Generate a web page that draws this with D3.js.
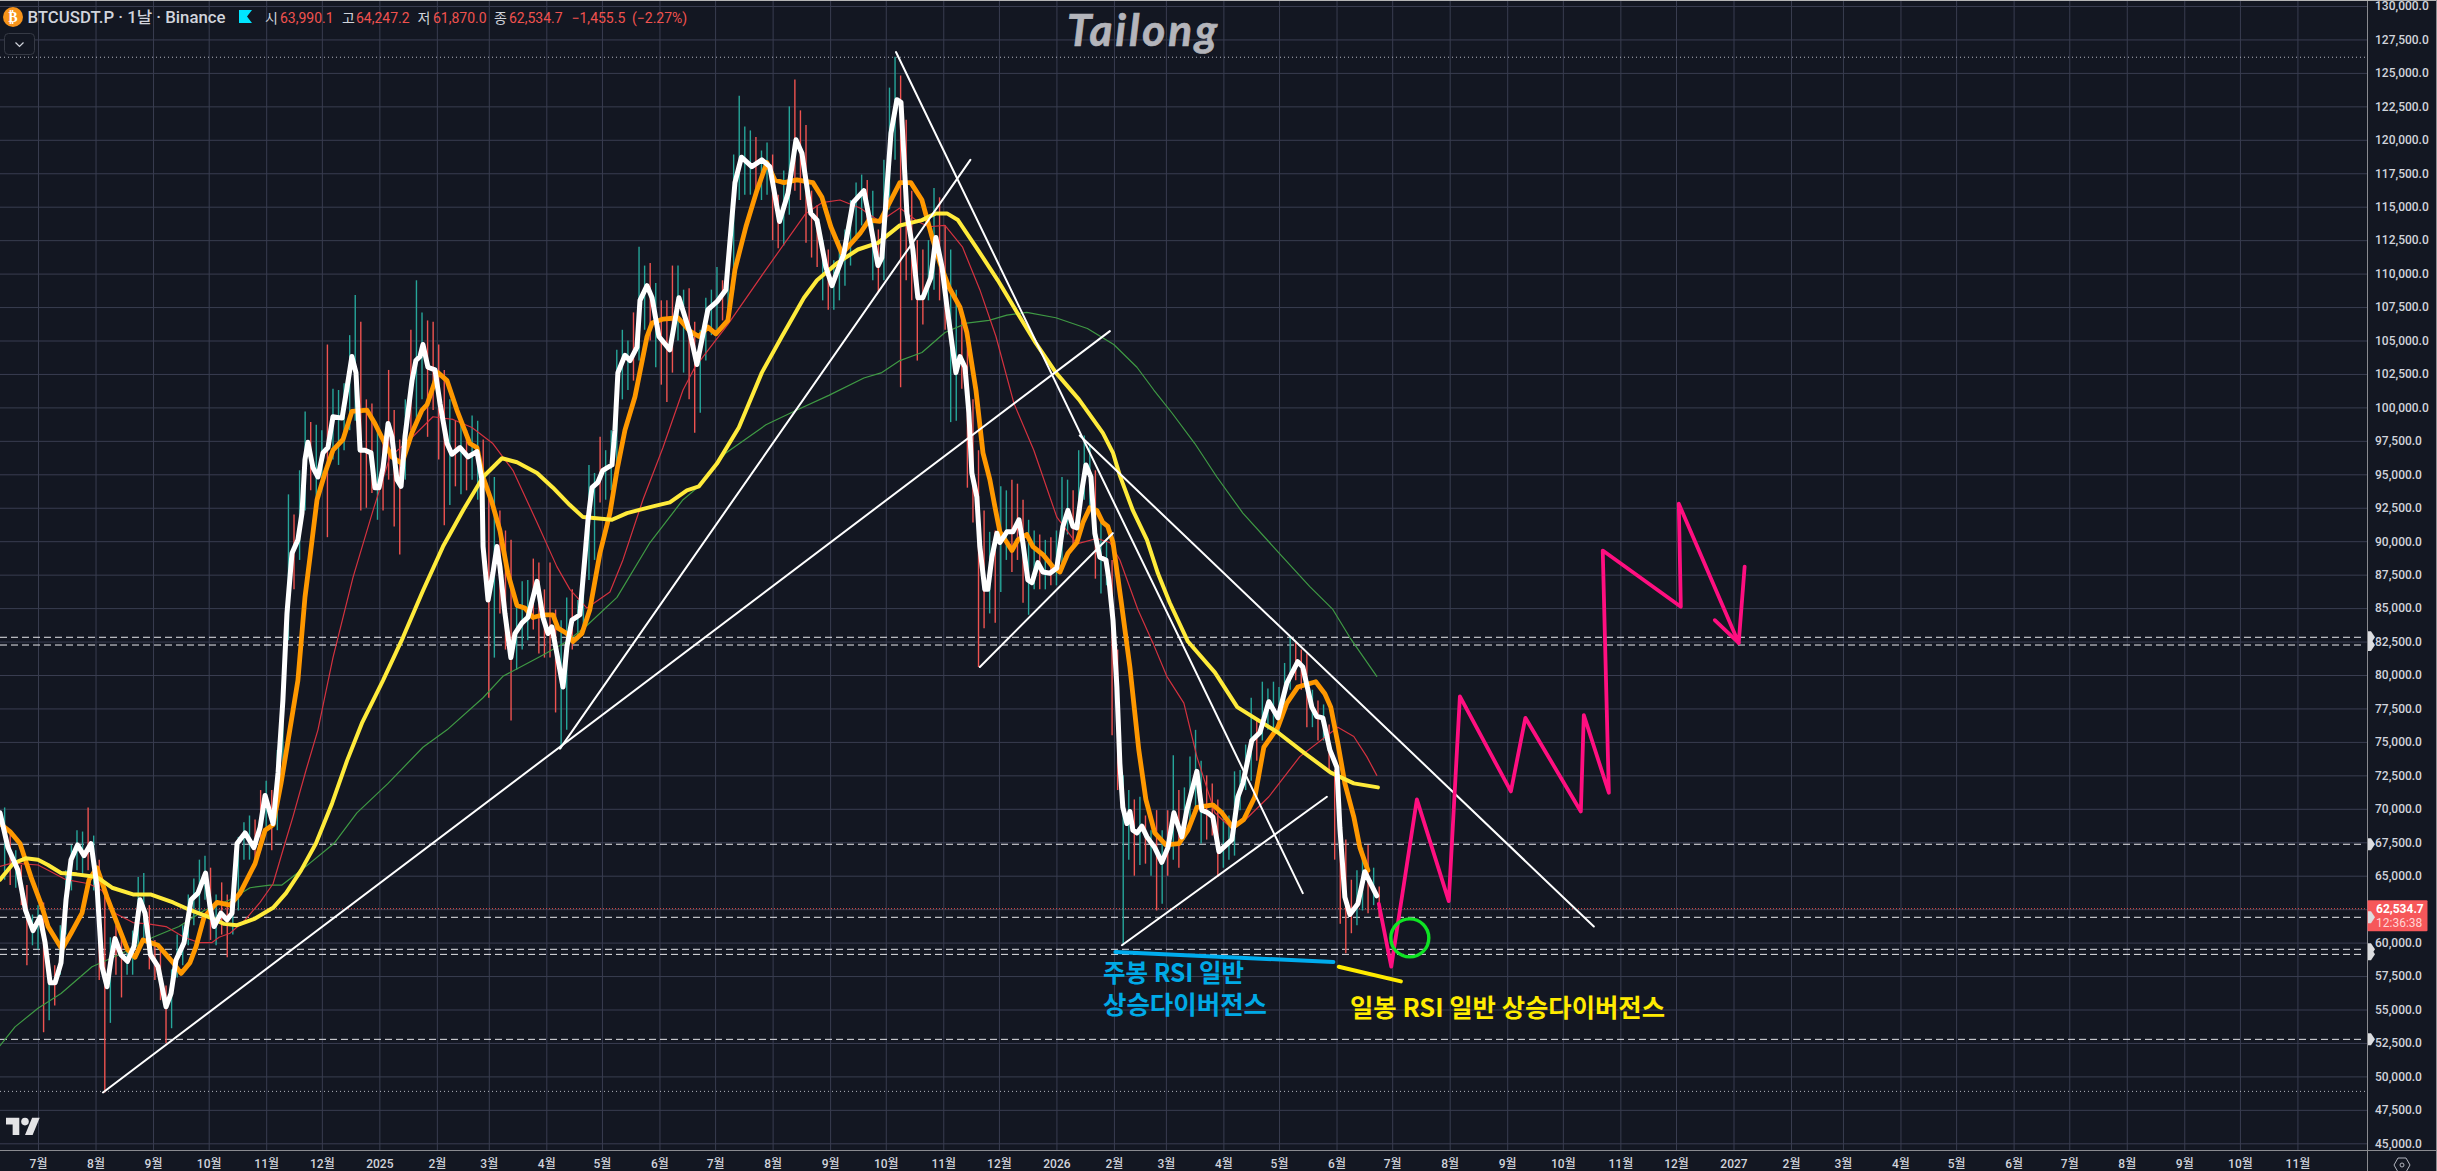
<!DOCTYPE html>
<html><head><meta charset="utf-8">
<script src="https://cdn.jsdelivr.net/npm/d3@7/dist/d3.min.js"></script>
<style>
html,body{margin:0;padding:0;background:#131722;overflow:hidden}
svg{display:block}
text{font-family:Roboto,"Noto Sans CJK KR",sans-serif}
</style></head><body>
<svg id="c" width="2437" height="1171"></svg>
<script>
// ---- values in thousands of USDT; days counted from 2024-07-01 ----
const priceTicks=[130,127.5,125,122.5,120,117.5,115,112.5,110,107.5,105,102.5,100,97.5,95,92.5,90,87.5,85,82.5,80,77.5,75,72.5,70,67.5,65,62.5,60,57.5,55,52.5,50,47.5,45];
const monthTicks=["2024-07","2024-08","2024-09","2024-10","2024-11","2024-12","2025-01","2025-02","2025-03","2025-04","2025-05","2025-06","2025-07","2025-08","2025-09","2025-10","2025-11","2025-12","2026-01","2026-02","2026-03","2026-04","2026-05","2026-06","2026-07","2026-08","2026-09","2026-10","2026-11","2026-12","2027-01","2027-02","2027-03","2027-04","2027-05","2027-06","2027-07","2027-08","2027-09","2027-10","2027-11"];
const monthLabels=["7월","8월","9월","10월","11월","12월","2025","2월","3월","4월","5월","6월","7월","8월","9월","10월","11월","12월","2026","2월","3월","4월","5월","6월","7월","8월","9월","10월","11월","12월","2027","2월","3월","4월","5월","6월","7월","8월","9월","10월","11월"];
const candleFirstDay=-18, candleStep=3;
const candleHigh=[70.1,68.4,66.9,65.8,64.3,62.1,62.8,63.0,58.7,58.3,61.3,65.4,67.3,68.4,68.3,70.1,68.0,66.2,63.9,60.4,61.3,60.9,59.8,60.9,64.9,65.2,62.8,60.2,59.5,56.8,58.0,60.6,61.3,63.6,64.8,66.2,66.5,65.6,63.6,64.5,63.6,63.6,67.9,69.0,69.5,69.2,71.4,72.1,71.4,74.4,78.9,93.5,92.0,95.3,99.7,98.9,98.7,98.3,104.7,101.4,101.3,101.8,105.4,108.4,106.4,100.6,100.3,98.3,97.6,102.8,99.8,97.6,100.6,105.8,109.5,107.1,106.5,106.4,104.7,102.8,100.6,99.0,98.7,98.3,99.4,99.0,97.6,93.8,94.8,92.3,90.8,90.1,85.6,87.0,87.1,88.7,88.4,86.4,88.4,84.9,84.1,85.8,86.4,85.6,87.9,95.7,95.1,97.8,96.8,98.3,104.3,105.8,105.0,107.1,112.0,110.6,110.8,109.3,108.0,108.0,110.6,110.6,108.8,108.9,106.4,105.8,108.2,108.8,110.5,109.5,110.3,118.9,123.3,121.0,120.7,120.2,119.2,119.8,118.9,115.9,117.7,122.5,124.5,122.2,121.1,116.2,115.1,112.5,111.8,111.0,112.5,113.3,115.5,116.8,117.4,117.0,116.2,113.3,118.5,123.9,126.2,124.8,121.5,116.2,112.5,111.8,112.5,116.4,115.7,113.6,111.8,108.8,106.7,105.0,100.6,96.8,92.3,90.7,90.8,94.1,93.8,94.6,94.3,93.1,91.6,90.8,90.5,90.1,90.3,90.8,94.8,94.6,93.8,96.8,97.9,97.2,95.3,91.6,90.1,88.6,81.9,72.5,71.4,70.7,70.9,69.5,68.4,69.9,68.4,69.9,74.0,71.4,71.6,73.9,75.9,73.6,72.5,71.9,70.7,69.9,69.5,72.8,72.9,74.8,78.3,76.6,79.5,79.0,79.5,79.1,80.9,82.8,82.4,81.9,81.6,78.9,78.1,77.8,76.3,72.9,70.7,67.7,64.7,65.4,67.1,67.3,65.6,64.2];
const candleLow=[64.7,64.3,64.1,62.8,58.3,59.8,59.5,53.3,54.2,55.3,57.6,60.6,63.9,65.4,65.0,65.4,63.9,57.2,48.8,54.0,57.6,55.9,57.6,57.6,59.1,60.2,58.0,57.2,55.7,52.5,53.6,57.4,58.3,59.8,61.3,62.1,63.2,60.2,59.8,60.6,58.9,60.6,62.4,66.2,66.2,65.8,66.9,68.4,66.9,68.4,72.1,82.6,86.4,88.6,92.3,93.8,93.1,94.6,90.3,96.1,95.7,96.8,98.3,99.0,92.3,92.5,93.6,91.6,92.3,94.6,91.1,89.0,94.6,98.3,99.0,100.6,97.8,99.8,96.1,91.2,92.7,94.1,93.5,93.8,94.6,93.1,91.4,78.3,81.3,84.6,81.9,76.6,80.4,81.9,82.6,83.4,81.6,81.3,81.3,77.2,74.5,75.9,81.9,82.6,83.4,87.1,88.6,92.9,93.1,93.8,95.3,100.6,101.3,102.0,103.5,105.8,105.0,103.0,101.7,100.4,102.6,105.0,102.6,100.6,98.1,99.6,103.5,105.4,105.8,106.5,106.5,108.8,115.5,115.9,115.9,116.2,115.5,115.9,112.5,111.9,112.1,114.4,116.2,115.5,112.3,111.2,110.5,108.0,107.3,107.3,108.0,109.1,110.6,112.5,113.6,113.6,109.5,108.6,109.5,114.8,118.5,101.5,109.5,108.0,103.5,106.2,108.0,108.8,108.0,105.8,98.9,99.0,101.4,94.0,91.4,80.6,83.5,84.6,83.9,86.2,88.6,87.7,88.6,85.4,84.5,86.4,86.4,86.4,86.7,86.7,87.8,90.5,89.7,90.5,93.1,92.3,87.2,86.1,86.7,75.5,71.4,59.8,66.2,65.0,65.8,65.9,65.0,62.4,62.9,65.0,66.2,65.6,67.7,68.8,69.9,67.4,67.7,68.0,64.9,65.6,66.2,66.5,69.9,71.4,72.1,73.6,75.1,75.9,75.5,75.5,77.4,78.9,79.6,78.9,76.1,76.1,75.1,75.1,72.9,66.2,61.4,59.2,60.7,61.3,62.4,62.2,62.8,61.9];
const candleUp=[1,0,1,0,0,1,1,0,1,0,1,1,1,1,1,0,1,0,0,1,0,0,1,1,1,1,0,0,0,0,1,1,1,1,1,1,1,0,1,0,0,1,1,1,1,0,0,1,0,1,1,1,0,1,1,0,1,1,0,1,1,1,1,1,0,0,0,1,0,0,0,0,1,0,1,1,0,0,0,0,1,0,1,0,1,1,0,0,1,0,0,0,1,1,1,0,0,0,0,0,1,1,0,1,1,1,1,0,1,1,1,1,1,0,1,1,0,1,0,0,0,1,1,0,0,1,1,1,1,0,1,1,1,1,1,0,1,1,0,0,1,1,0,0,0,0,0,1,0,1,1,1,1,1,1,0,1,0,1,1,1,0,0,0,0,0,1,1,0,0,1,1,0,0,0,0,0,1,0,1,1,0,0,0,1,1,0,1,0,1,1,1,0,1,1,1,0,1,1,0,0,1,1,0,1,0,1,0,1,0,1,0,1,1,1,1,0,0,0,1,1,1,1,1,1,0,1,1,1,1,1,1,0,0,0,1,0,1,0,0,0,0,0,1,1,0,1,0];
const whiteDays=[-20.5,-16.2,-10.8,-6.7,-2.7,1.1,3.8,6.5,9.2,12.4,15.1,17.8,21.3,24.8,28.6,31.8,34.5,37.2,39.3,41.5,44.7,48.2,51.7,55,57.7,60.6,64.7,69,71.7,74.4,78.7,82.5,86.2,90.3,92.7,94.9,98.6,101.9,104.6,107.3,111.6,116.4,119.7,122.4,126.7,129.4,132,134.2,136.9,140.1,142.3,143.9,145.5,148.2,150.9,153.6,156.3,159,163.9,166.6,169.2,171.4,173.6,176.3,179.5,181.6,183.8,186,188.7,190.8,193.5,195.7,197.8,201.6,203.7,205.9,207.5,210.2,214,216.7,220.5,223.1,227.5,231.8,236.6,239.3,239.9,242.6,245.2,247.4,249,251.7,254.9,257.1,260.9,264.1,269,272.2,274.9,277,279.7,283,285.1,287.8,292.1,294.8,296.5,298.6,301.8,304.5,309.4,311,312.6,316.4,319.1,322.9,324.5,328.3,331,334.7,340.6,345.5,351.4,355.2,361.1,366,370.8,375.7,379.2,384.8,390.2,394.5,399.7,404.3,408.6,411.8,416.6,419.9,424.7,428,434.4,439.3,445.2,449,452.8,454.9,459.8,463,465.2,468.4,471.6,474.3,477,481.3,484,487.3,490,494.8,497,499.7,501.8,503.4,506.1,507.7,510.4,512,514.2,516.9,518.5,522.3,525.5,528.8,530.9,533.6,535.8,539,541.7,545.5,549.2,552.5,555.2,557.9,560,562.7,564.9,567.6,569.7,572.4,575.7,577.3,579.5,581.6,583.2,584.8,587,588.6,590.2,592.4,595.1,597.8,602,605.8,609.1,612.3,616.6,619.3,624.7,627.4,630.6,633.3,636.6,643.6,646.8,649.5,654.3,658.7,663.5,668.4,673.2,679.1,681.8,686.7,689.4,692.6,696.4,700.2,701.8,704.5,707.2,711.5,715.2,721.7];
const whiteVals=[69.7,67.1,65.4,62.4,60.9,61.9,60.0,57.0,57.0,58.5,63.2,66.2,67.3,66.5,67.4,64.2,58.2,56.7,58.7,60.3,59.1,58.6,59.7,63.2,62.2,59.1,58.2,55.2,56.2,58.7,60.0,63.2,63.7,65.2,62.7,61.2,62.2,61.7,62.2,67.4,68.2,67.1,68.6,71.0,68.9,72.7,78.1,84.6,89.1,90.1,92.1,96.1,97.4,95.5,94.8,96.6,97.0,99.3,99.2,101.5,103.8,102.6,96.8,96.8,96.6,94.0,94.0,95.5,98.8,97.8,94.6,94.1,97.8,102.0,103.5,103.8,104.7,103.0,102.8,100.3,97.3,96.5,97.0,96.3,96.7,94.6,89.6,85.6,87.6,89.6,88.1,84.6,81.3,83.1,83.9,84.3,87.0,84.3,83.1,83.6,81.6,79.1,82.1,84.1,84.5,88.8,91.6,94.0,94.4,95.3,95.7,98.3,102.6,103.9,103.5,104.5,108.0,109.1,108.2,105.3,104.3,108.2,105.6,103.2,107.3,107.9,108.8,116.8,118.7,118.0,118.5,118.0,113.9,116.0,120.0,119.0,114.5,114.0,110.5,109.1,111.5,115.3,116.2,113.5,110.6,111.2,120.5,123.0,122.8,114.5,111.8,108.2,108.2,109.7,112.7,110.5,107.5,102.6,103.8,103.0,99.6,95.1,93.3,89.6,86.4,86.4,88.8,90.6,89.9,90.7,90.7,91.6,89.9,87.1,86.9,88.4,87.7,87.6,88.0,91.1,92.3,91.1,91.0,93.8,95.7,94.8,90.6,88.8,88.6,87.1,84.1,79.1,73.4,70.1,68.9,69.8,68.4,68.2,68.7,67.9,67.1,66.0,67.1,69.7,67.9,69.9,72.8,69.9,69.7,69.4,66.8,67.7,70.9,71.9,75.1,75.7,78.0,76.8,79.4,81.0,80.6,77.6,76.9,76.8,74.4,73.1,68.6,63.4,62.1,62.9,65.3,63.5];
const orangeDays=[-20.5,-15.1,-9.7,-3.8,1.6,5.4,12.9,17.8,23.7,27.5,31.8,37.2,44.2,48.2,52.3,56.6,64.7,72.8,77.1,81.9,85.2,89.5,96.5,103.5,108.9,117,122.4,126.7,131,134.8,140.1,143.9,146.6,150.4,154.7,159,164.4,169.2,177.3,181.6,187,190.8,196.2,201.6,207,209.7,215.6,220.5,225.8,232.8,236.6,239.9,244.7,249,253.3,258.2,262.5,266.8,272.2,277.6,280.3,285.1,288.4,293.2,297.5,302.9,308.3,312.1,316.4,321.8,328.3,331,336.9,345,351.4,356.3,361.1,365.4,371.9,375.7,381.6,387.5,392.9,397.2,402.1,409.1,417.7,422.6,427.4,433.4,443.1,447.9,453.8,459.8,464.6,470.5,476.5,482.4,486.2,491,497,500.7,505.6,509.4,513.1,515.8,518.5,522.3,525,528.2,533,536.3,541.7,547,550.9,555.2,560,563.3,567,570.8,574,576.7,579.5,582.1,583.8,588.6,593.4,597.2,602,608,615,619.9,624.7,633.3,638.2,644.1,650,656,660.8,668.4,673.2,679.1,688.8,693.7,696.9,700.7,704.5,709.3,712.6,716.9];
const orangeVals=[68.9,68.3,67.4,64.9,62.9,61.2,59.5,60.7,62.2,64.7,65.6,63.4,60.9,59.5,58.9,60.2,59.8,58.5,57.7,58.5,59.7,61.9,63.0,62.8,63.7,65.9,68.4,68.8,71.9,75.1,79.6,85.8,88.8,93.1,95.1,96.8,97.6,99.7,99.8,98.8,97.3,96.3,95.8,98.1,99.8,100.2,102.6,102.0,99.8,97.3,97.0,94.8,92.9,90.8,87.6,85.2,85.0,84.3,84.5,84.5,83.5,83.1,82.5,83.1,84.9,89.1,92.1,95.3,98.3,100.8,105.3,106.3,106.6,106.7,105.7,105.3,106.0,105.5,106.5,110.3,113.5,116.2,118.3,117.0,116.8,117.0,116.8,115.7,113.5,111.5,113.0,114.0,113.9,115.5,116.8,116.8,115.5,112.5,110.8,109.0,107.5,105.6,101.3,96.6,94.6,92.6,90.7,89.9,89.3,90.1,90.5,89.6,89.0,88.1,87.7,89.1,89.9,91.4,92.5,92.3,91.4,91.1,89.9,87.3,85.6,80.6,74.4,70.7,68.2,67.3,67.4,68.4,70.1,70.3,69.7,68.6,69.2,70.9,74.6,76.1,77.9,79.1,79.5,78.6,77.6,74.9,71.9,69.4,67.1,65.4];
const yellowDays=[-20.5,-13.5,-6.7,0,5.4,12.4,20.8,31.8,39.9,51.2,60.6,72.8,82.5,92.2,100.3,107.3,117,126.7,133.7,141.8,149.8,158.5,166.6,174.6,186,196.7,207.5,218.3,229.1,239.9,250.1,258.2,269,277.6,286.7,293.8,309.4,317.5,331.5,340.6,349.8,356.3,366,377.8,390.2,401,412.9,419.9,431,442,452.8,464.6,476.5,484,490,495.9,505.6,517.4,528.2,537.9,548.7,561.1,574,579.5,583.2,590.2,597.8,603.7,610.1,619.9,634.4,646.5,668.4,682.4,696.9,709.3,722.3];
const yellowVals=[64.7,65.9,66.3,66.2,65.8,65.2,65.1,64.9,64.1,63.6,63.6,63.0,62.4,61.9,61.4,61.3,61.8,62.6,63.7,65.4,67.4,70.4,73.6,76.4,79.6,82.8,86.3,89.6,92.3,94.8,96.2,95.9,95.1,94.0,92.7,91.8,91.6,92.1,92.6,92.9,93.8,94.1,95.8,98.5,102.6,105.3,108.2,109.5,110.8,111.8,112.3,113.6,114.0,114.5,114.5,114.0,112.0,109.5,107.0,104.8,102.6,100.6,98.1,96.6,94.9,92.3,90.1,87.6,85.4,82.5,80.2,77.6,75.7,74.2,72.7,71.9,71.6];
const redDays=[-20.5,-15.1,-9.7,0,7,15.1,27.5,34.5,41.5,51.2,59.3,69,78.7,86.8,93.8,97.6,103.5,111.6,119.7,126.7,132,137.4,144.5,150.9,159,169.8,180.6,189.7,200.5,212.9,223.7,233.9,245.2,256,269,279.7,286.7,295.9,308.3,315.3,326.1,336.9,347.7,354.1,371.9,392.4,413.9,422.6,432.3,443.1,453.8,464.6,474.3,480.2,488.9,498.3,507.7,516.4,526.1,536.8,549.2,560,570.8,577.8,583.2,592.9,601,608.5,617.7,624.7,634.4,643,651,663.5,680.2,700.7,709.3,716.3,721.7];
const redVals=[65.7,65.9,65.9,65.8,65.3,64.7,64.4,63.9,62.2,61.5,61.4,61.2,60.4,60.0,60.0,60.4,60.7,61.7,63.0,64.4,66.9,69.4,72.9,75.9,81.3,87.3,92.3,96.3,97.6,99.3,99.1,98.5,97.3,95.3,91.4,88.1,86.4,85.0,86.2,88.6,93.1,97.0,101.3,103.0,106.2,110.3,114.5,115.3,115.5,114.9,113.9,114.9,113.9,113.5,113.6,112.0,108.8,105.3,100.3,96.8,91.8,89.8,90.2,89.9,88.6,84.9,82.4,79.9,77.9,73.9,69.7,68.6,69.2,70.9,73.9,76.1,75.4,73.9,72.5];
const greenDays=[-20.5,-12.4,0,12.4,29.1,45.3,62,76,89.5,103.5,114.3,125,131.5,141.8,159.5,171.9,188.7,207.5,220.5,239.9,250.6,272.2,285.1,295.9,312.1,329.9,347.7,356.3,370.8,392.4,409.1,426.3,445.2,454.9,464.6,476.5,488.9,500.7,512.6,522.3,533,548.7,565.7,579.9,592.4,601.5,611.2,623.6,635.5,649.5,667.8,685.6,698,707.2,721.7];
const greenVals=[52.3,53.7,55.1,56.2,58.2,59.2,60.4,61.2,62.4,63.2,64.1,64.3,64.3,65.4,67.4,69.7,71.9,74.6,75.9,78.3,79.9,81.5,82.5,83.7,85.8,89.9,93.1,94.1,96.6,98.7,99.8,100.9,102.2,102.6,103.5,104.1,105.6,106.3,106.5,106.9,107.1,106.7,105.9,104.7,103.0,101.3,99.6,97.3,94.8,92.1,89.3,86.6,84.9,82.8,79.9];
const dashedLevels=[82.82,82.24,67.35,61.89,59.5,59.12,52.77];
const dottedLevels=[126.17,48.88];
const lastPrice=62.5347;
const trendLines=[[35,48.8,577.8,105.7],[462.5,126.56,681.8,63.7],[281.4,74.5,502.6,118.5],[507.7,80.6,579.4,90.6],[561.6,97.9,838.7,61.2],[584.3,59.8,694.8,70.9]];
const blueDivergence=[580.8,59.3,698.3,58.55];
const yellowDivergence=[701.2,58.2,734.7,57.1];
const forecastDays=[722.8,729.5,743.3,760.5,766.5,794,801.8,831.7,833.3,846.8,843.5,885.6,884.5,916.8,920];
const forecastVals=[62.9,58.2,70.7,63.1,78.4,71.3,76.8,69.8,77.0,71.2,89.3,85.1,92.8,82.4,88.1];
const arrowBarb=[903.9,84.1,916.8,82.4];
const circleSpot=[739.5,60.35];

// ---- scales ----
const W=2437,H=1171,PW=2367,PB=1150;
const DAY=864e5, base=Date.UTC(2024,6,1);
const toDate=d=>new Date(base+d*DAY);
const x=d3.scaleUtc().domain([toDate(-20.5),toDate(1255.5)]).range([0,PW]);
const y=d3.scaleLinear().domain([45,130]).range([1143.3,6]);
const X=d=>x(toDate(d));
const svg=d3.select('#c');
svg.append('rect').attr('width',W).attr('height',H).attr('fill','#131722');
svg.append('defs').append('clipPath').attr('id','plot').append('rect').attr('width',PW).attr('height',PB);
const monthDates=monthTicks.map(m=>d3.utcParse('%Y-%m')(m));

// grid
const GRID='#393d50';
const gx=svg.append('g').call(d3.axisBottom(x).tickValues(monthDates).tickSize(PB).tickFormat(''));
const gy=svg.append('g').attr('clip-path','url(#plot)').call(d3.axisRight(y).tickValues(priceTicks).tickSize(PW).tickFormat(''));
[gx,gy].forEach(g=>{g.select('.domain').remove();g.selectAll('line').attr('stroke',GRID).attr('stroke-width',1);});

const plot=svg.append('g').attr('clip-path','url(#plot)');
// horizontal levels
plot.selectAll('.dash').data(dashedLevels).join('line').attr('x1',0).attr('x2',PW-2).attr('y1',d=>y(d)).attr('y2',d=>y(d))
 .attr('stroke','#e8e8ec').attr('stroke-width',1).attr('stroke-dasharray','7 4');
plot.selectAll('.dot').data(dottedLevels).join('line').attr('x1',0).attr('x2',PW-2).attr('y1',d=>y(d)).attr('y2',d=>y(d))
 .attr('stroke','#b2b5be').attr('stroke-width',1).attr('stroke-dasharray','1 3');
plot.append('line').attr('x1',0).attr('x2',PW).attr('y1',y(lastPrice)).attr('y2',y(lastPrice))
 .attr('stroke','#f0524f').attr('stroke-width',1).attr('stroke-dasharray','1 2');

// candles
plot.selectAll('.w').data(candleHigh).join('line')
 .attr('x1',(d,i)=>X(candleFirstDay+i*candleStep)).attr('x2',(d,i)=>X(candleFirstDay+i*candleStep))
 .attr('y1',d=>y(d)).attr('y2',(d,i)=>y(candleLow[i]))
 .attr('stroke',(d,i)=>candleUp[i]?'#26a69a':'#ef5350').attr('stroke-width',1.4);

// moving averages
const line=d3.line().x(d=>X(d[0])).y(d=>y(d[1])).curve(d3.curveLinear);
const drawSeries=(days,vals,color,w)=>plot.append('path').attr('d',line(days.map((d,i)=>[d,vals[i]])))
 .attr('fill','none').attr('stroke',color).attr('stroke-width',w).attr('stroke-linejoin','round').attr('stroke-linecap','round');
drawSeries(greenDays,greenVals,'#3f9a44',1.2);
drawSeries(redDays,redVals,'#d4323f',1.2);
drawSeries(orangeDays,orangeVals,'#ff9800',4.8);
drawSeries(yellowDays,yellowVals,'#ffeb3b',4);
drawSeries(whiteDays,whiteVals,'#ffffff',5);

// drawings
const seg=(s,color,w)=>plot.append('line').attr('x1',X(s[0])).attr('y1',y(s[1])).attr('x2',X(s[2])).attr('y2',y(s[3]))
 .attr('stroke',color).attr('stroke-width',w).attr('stroke-linecap','round');
trendLines.forEach(t=>seg(t,'#ffffff',2));
seg(blueDivergence,'#00acee',4);
seg(yellowDivergence,'#ffeb00',4);
drawSeries(forecastDays,forecastVals,'#ff0f80',3.8);
seg(arrowBarb,'#ff0f80',3.8);
plot.append('circle').attr('cx',X(circleSpot[0])).attr('cy',y(circleSpot[1])).attr('r',19)
 .attr('fill','none').attr('stroke','#0fe324').attr('stroke-width',3.4);

const note=(t,xx,yy,len,c)=>svg.append('text').text(t).attr('x',xx).attr('y',yy).attr('fill',c)
 .attr('font-size',25).attr('font-weight',700).attr('textLength',len).attr('lengthAdjust','spacingAndGlyphs')
 .style('font-family','"Noto Sans CJK KR"');
note('주봉 RSI 일반',1103,982,141,'#00a9e6');
note('상승다이버전스',1103,1014,164,'#00a9e6');
note('일봉 RSI 일반 상승다이버전스',1350,1017,315,'#ffeb00');

// watermark
svg.append('text').text('Tailong').attr('x',1067).attr('y',46).attr('fill','#b4b5bb').attr('stroke','#b4b5bb').attr('stroke-width',0.7)
 .attr('font-size',44).attr('font-style','italic').attr('font-weight',700).attr('textLength',150).attr('lengthAdjust','spacing')
 .style('font-family','Lato');

// panels
svg.append('rect').attr('x',PW).attr('y',0).attr('width',W-PW).attr('height',H).attr('fill','#131722');
svg.append('rect').attr('x',0).attr('y',PB).attr('width',W).attr('height',H-PB).attr('fill','#131722');
const yAxis=svg.append('g').attr('transform',`translate(${PW},0)`).call(d3.axisRight(y).tickValues(priceTicks).tickSize(0).tickPadding(8).tickFormat(v=>d3.format(',.1f')(v*1000)));
const xAxis=svg.append('g').attr('transform',`translate(0,${PB})`).call(d3.axisBottom(x).tickValues(monthDates).tickSize(0).tickPadding(9).tickFormat((d,i)=>monthLabels[i]));
[yAxis,xAxis].forEach(a=>{a.select('.domain').remove();a.selectAll('text').attr('fill','#d1d4dc').attr('font-size',12).attr('font-weight',500).style('font-family','Roboto,"Noto Sans CJK KR"');});
svg.append('line').attr('x1',PW+.5).attr('x2',PW+.5).attr('y1',0).attr('y2',H).attr('stroke','#8a8b90');
svg.append('line').attr('x1',0).attr('x2',W).attr('y1',PB+.5).attr('y2',PB+.5).attr('stroke','#8a8b90');
svg.append('line').attr('x1',0).attr('x2',W).attr('y1',.5).attr('y2',.5).attr('stroke','#b5b5b5');
svg.append('line').attr('x1',W-.5).attr('x2',W-.5).attr('y1',0).attr('y2',H).attr('stroke','#8a8b90');

// last-price label and level markers
svg.append('rect').attr('x',PW+.5).attr('y',y(lastPrice)-8.5).attr('width',60).attr('height',31).attr('rx',1).attr('fill','#f6575a');
svg.append('text').text(d3.format(',.1f')(lastPrice*1000)).attr('x',2376).attr('y',y(lastPrice)+4).attr('fill','#fff').attr('font-size',12).attr('font-weight',700);
svg.append('text').text('12:36:38').attr('x',2376).attr('y',y(lastPrice)+18).attr('fill','#ffd5d5').attr('font-size',12);
svg.selectAll('.mk').data(dashedLevels).join('path')
 .attr('d',d=>{const c=y(d);return `M${PW+1} ${c-6}L${PW+4} ${c-6}L${PW+8} ${c}L${PW+4} ${c+6}L${PW+1} ${c+6}Z`;}).attr('fill','#dcdde0');

// legend header
svg.append('circle').attr('cx',13).attr('cy',17).attr('r',10).attr('fill','#f7931a');
svg.append('text').text('₿').attr('x',13).attr('y',22).attr('text-anchor','middle').attr('fill','#fff').attr('font-size',14).attr('font-weight',700).style('font-family','"DejaVu Sans"');
svg.append('text').text('BTCUSDT.P · 1날 · Binance').attr('x',27.5).attr('y',23).attr('fill','#d1d4dc').attr('font-size',16).attr('font-weight',500).attr('textLength',198).attr('lengthAdjust','spacingAndGlyphs');
svg.append('path').attr('d','M239 10H252L247 16.5L252 23H239Z').attr('fill','#00e5ff');
const hdr=[['시',265,'#d1d4dc'],['63,990.1',280,'#f0524f'],['고',342,'#d1d4dc'],['64,247.2',356,'#f0524f'],['저',417.5,'#d1d4dc'],['61,870.0',433,'#f0524f'],['종',494,'#d1d4dc'],['62,534.7',509,'#f0524f'],['−1,455.5',571.5,'#f0524f'],['(−2.27%)',632,'#f0524f']];
svg.selectAll('.h').data(hdr).join('text').text(d=>d[0]).attr('x',d=>d[1]).attr('y',22.5).attr('fill',d=>d[2]).attr('font-size',14);
svg.append('rect').attr('x',4.5).attr('y',33.5).attr('width',30).attr('height',21).attr('rx',4).attr('fill','#131722').attr('stroke','#363a45');
svg.append('path').attr('d','M15.5 42.5L19.5 46.5L23.5 42.5').attr('fill','none').attr('stroke','#d1d4dc').attr('stroke-width',1.2);

// TradingView mark and settings icon
const tv=svg.append('g').attr('transform','translate(6,1114) scale(0.95)').attr('fill','#e4e4e6');
tv.append('path').attr('d','M14 22H7V11H0V4h14v18zM28 22h-8l7.5-18h8L28 22z');
tv.append('circle').attr('cx',20).attr('cy',8).attr('r',4);
svg.append('path').attr('d','M2394 1165L2398 1158H2406L2410 1165L2406 1172H2398Z').attr('fill','none').attr('stroke','#b2b5be');
svg.append('circle').attr('cx',2402).attr('cy',1165).attr('r',2).attr('fill','none').attr('stroke','#b2b5be');
</script>
</body></html>
